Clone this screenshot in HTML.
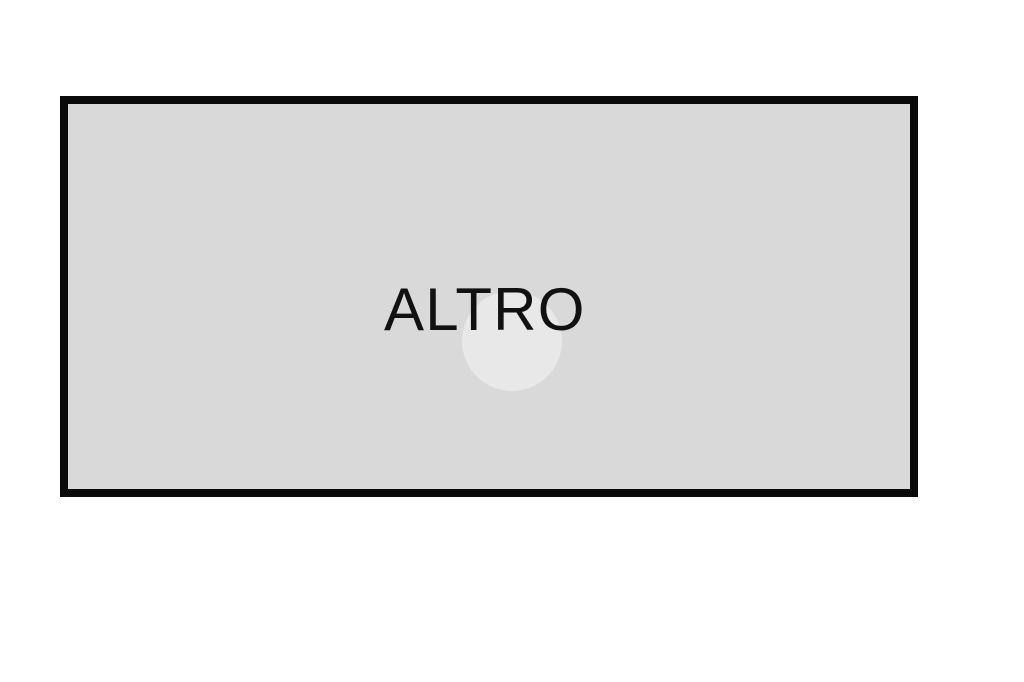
<!DOCTYPE html>
<html>
<head>
<meta charset="utf-8">
<style>
  html, body { margin: 0; padding: 0; background: #ffffff; }
  body { width: 1024px; height: 682px; position: relative; overflow: hidden; }
  .box {
    position: absolute;
    left: 60px; top: 96px;
    width: 842px; height: 385px;
    border: 8px solid #0a0a0a;
    background: #d9d9d9;
  }
  .label {
    position: absolute;
    left: 384px; top: 275px;
    font-family: "Liberation Sans", Arial, sans-serif;
    font-size: 60px;
    line-height: 70px;
    letter-spacing: 1.2px;
    color: #111;
    white-space: nowrap;
  }
  .circle {
    position: absolute;
    left: 462px; top: 291px;
    width: 100px; height: 100px;
    border-radius: 50%;
    background: #e8e8e8;
  }
</style>
</head>
<body>
  <div class="box"></div>
  <div class="circle"></div>
  <div class="label">ALTRO</div>
</body>
</html>
